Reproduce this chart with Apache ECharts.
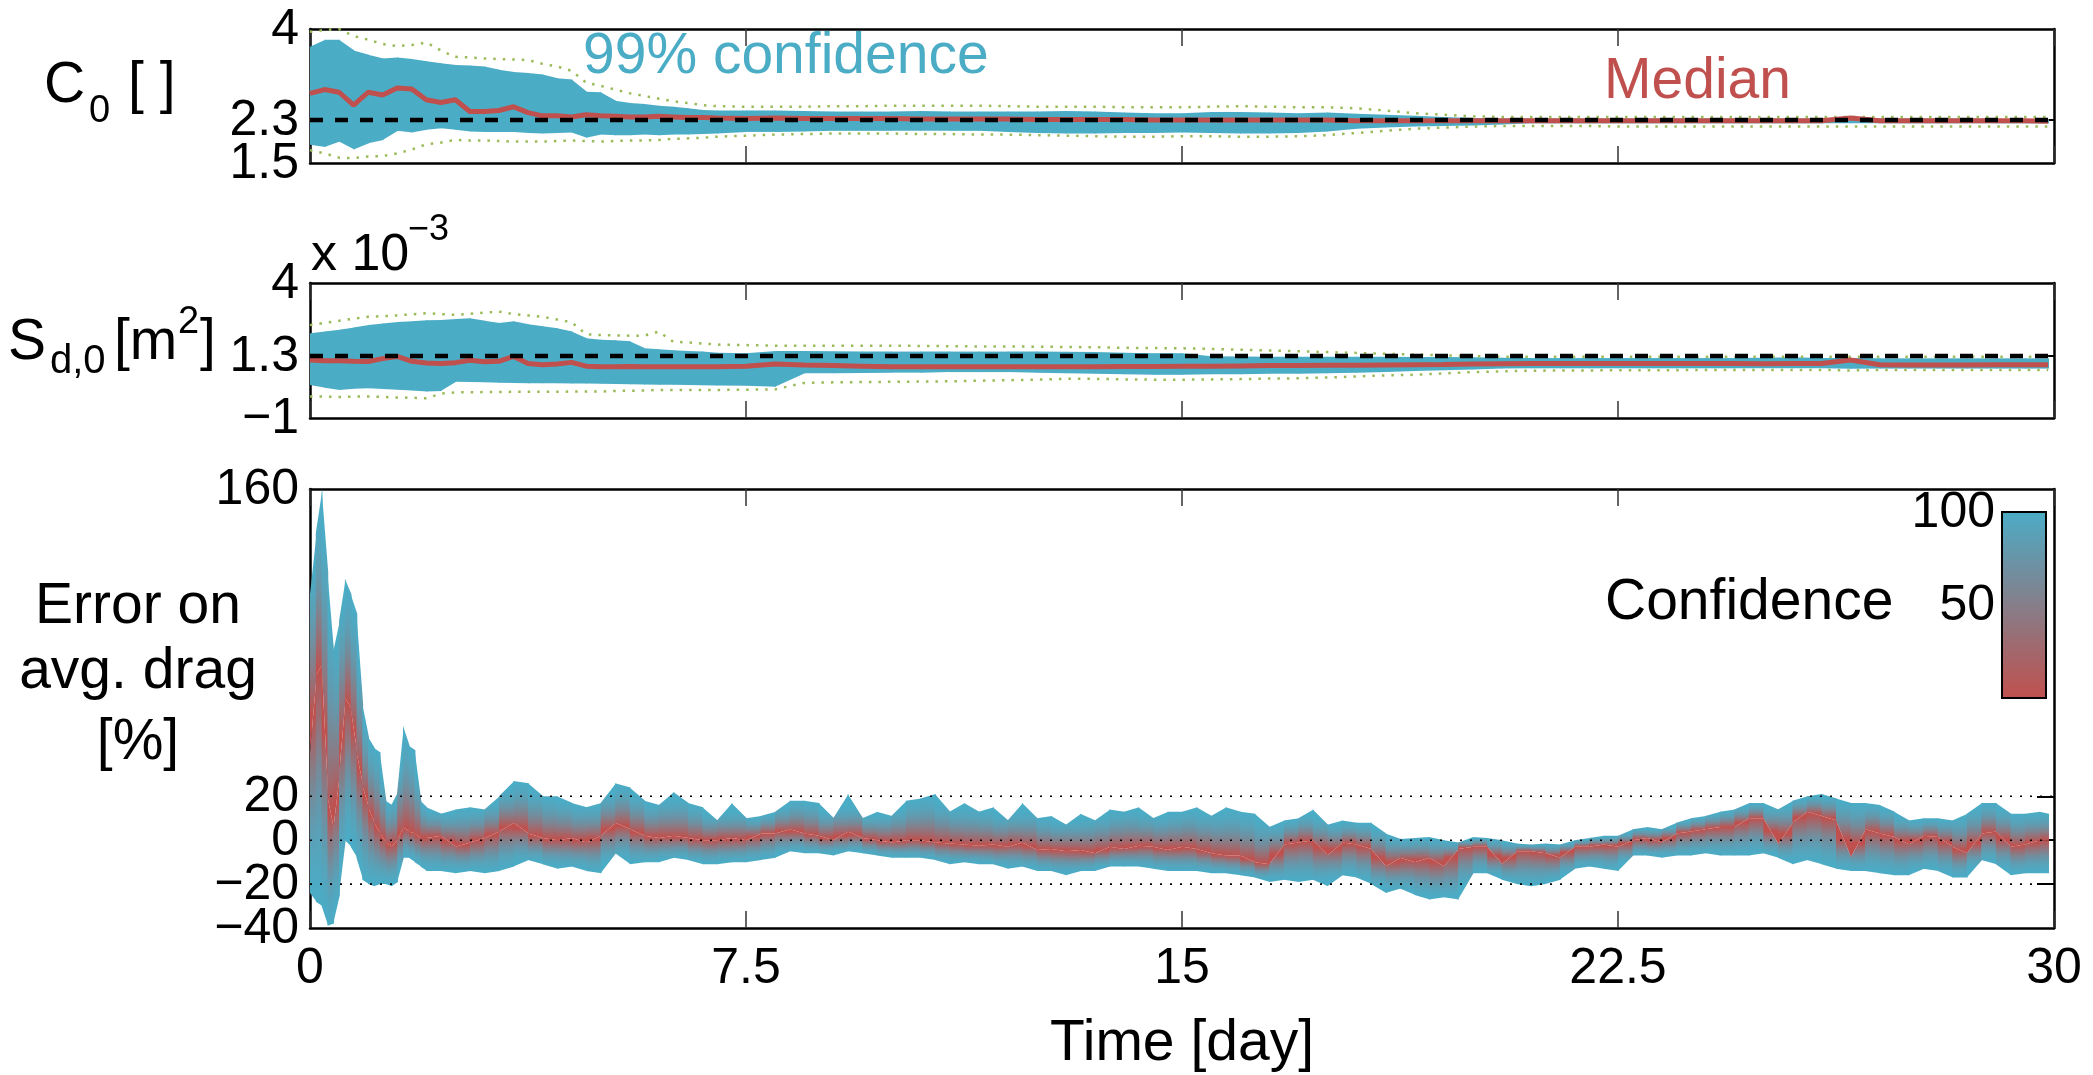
<!DOCTYPE html>
<html>
<head>
<meta charset="utf-8">
<script src="https://cdn.jsdelivr.net/npm/echarts@6/dist/echarts.min.js"></script>
<style>
  html, body { margin: 0; padding: 0; background: #fff; }
  #chart { width: 2093px; height: 1075px; }
</style>
</head>
<body>
<div id="chart"></div>
<script>
// ---------- data ----------
// time grid for the two parameter panels [day]
const paramDays = [
  0, 0.25, 0.5, 0.75, 1, 1.25, 1.5, 1.75, 2, 2.25, 2.5, 2.75, 3, 3.25, 3.5, 3.75, 4, 4.25, 4.5, 4.75,
  5, 5.25, 5.5, 5.75, 6, 6.25, 6.5, 6.75, 7,
  7.5, 8, 8.5, 9, 9.5, 10, 10.5, 11, 11.5, 12, 12.5, 13, 13.5, 14, 14.5, 15, 15.5, 16, 16.5, 17, 17.5,
  18, 18.5, 19, 19.5, 20, 20.5, 21, 21.5, 22, 22.5, 23, 23.5, 24, 24.5, 25, 25.5, 26, 26.5, 27, 27.5,
  28, 28.5, 29, 29.5,
  29.9
];

// drag coefficient C0: 99% band, median, outer envelope
const c0Upper = [
  3.67, 3.8, 3.8, 3.6, 3.52, 3.45, 3.47, 3.44, 3.4, 3.36, 3.33, 3.32, 3.3, 3.24, 3.2, 3.18, 3.15, 3.08, 3.06, 2.83,
  2.82, 2.66, 2.62, 2.6, 2.57, 2.55, 2.52, 2.49, 2.48,
  2.48, 2.48, 2.47, 2.46, 2.46, 2.46, 2.47, 2.46, 2.46, 2.46, 2.46, 2.47, 2.46, 2.44, 2.43, 2.43, 2.45, 2.45, 2.44, 2.43, 2.44,
  2.42, 2.4, 2.38, 2.36, 2.34, 2.33, 2.33, 2.33, 2.33, 2.33, 2.33, 2.33, 2.33, 2.33, 2.33, 2.33, 2.33, 2.34, 2.33, 2.33,
  2.33, 2.33, 2.32, 2.32,
  2.32
];
const c0Lower = [
  1.84, 1.80, 1.90, 1.75, 1.87, 1.93, 2.1, 2.07, 2.12, 2.15, 2.12, 2.09, 2.08, 2.08, 2.08, 2.06, 2.05, 2.06, 2.07, 1.97,
  2.03, 2.02, 2.02, 2.03, 2.02, 2.03, 2.03, 2.04, 2.05,
  2.08, 2.08, 2.09, 2.1, 2.1, 2.1, 2.1, 2.1, 2.1, 2.08, 2.06, 2.05, 2.05, 2.06, 2.06, 2.07, 2.06, 2.05, 2.05, 2.06, 2.09,
  2.14, 2.16, 2.18, 2.19, 2.2, 2.22, 2.24, 2.24, 2.24, 2.24, 2.24, 2.24, 2.24, 2.24, 2.24, 2.24, 2.24, 2.24, 2.24, 2.24,
  2.24, 2.24, 2.24, 2.24,
  2.24
];
const c0Median = [
  2.8, 2.87, 2.82, 2.58, 2.82, 2.77, 2.9, 2.88, 2.68, 2.63, 2.68, 2.46, 2.46, 2.48, 2.55, 2.44, 2.38, 2.38, 2.36, 2.4,
  2.38, 2.37, 2.36, 2.36, 2.37, 2.36, 2.35, 2.35, 2.34,
  2.33, 2.34, 2.33, 2.33, 2.33, 2.33, 2.32, 2.32, 2.32, 2.32, 2.31, 2.31, 2.31, 2.31, 2.3, 2.3, 2.3, 2.3, 2.3, 2.3, 2.3,
  2.29, 2.29, 2.29, 2.29, 2.29, 2.29, 2.29, 2.29, 2.29, 2.29, 2.29, 2.29, 2.29, 2.29, 2.29, 2.29, 2.29, 2.34, 2.29, 2.29,
  2.29, 2.29, 2.29, 2.29,
  2.28
];
const c0EnvelopeUp = [
  3.95, 3.98, 4.0, 3.87, 3.8, 3.72, 3.68, 3.7, 3.75, 3.6, 3.48, 3.47, 3.45, 3.44, 3.43, 3.42, 3.35, 3.3, 3.22, 3.0,
  2.94, 2.87, 2.8, 2.75, 2.7, 2.65, 2.62, 2.58, 2.56,
  2.55, 2.55, 2.55, 2.56, 2.56, 2.57, 2.57, 2.57, 2.57, 2.56, 2.55, 2.55, 2.55, 2.54, 2.54, 2.54, 2.55, 2.56, 2.55, 2.54, 2.54,
  2.52, 2.48, 2.43, 2.4, 2.37, 2.36, 2.36, 2.36, 2.36, 2.36, 2.36, 2.36, 2.36, 2.36, 2.36, 2.36, 2.36, 2.36, 2.36, 2.36,
  2.36, 2.36, 2.36, 2.36,
  2.36
];
const c0EnvelopeLow = [
  1.74, 1.68, 1.6, 1.59, 1.62, 1.63, 1.68, 1.75, 1.85, 1.88, 1.93, 1.92, 1.92, 1.91, 1.9, 1.9, 1.9, 1.91, 1.92, 1.91,
  1.9, 1.91, 1.92, 1.92, 1.93, 1.95, 1.96, 1.97, 1.99,
  2.01, 2.03, 2.04, 2.05, 2.05, 2.05, 2.04, 2.04, 2.03, 2.03, 2.02, 2.01, 2.0, 1.99, 1.99, 2.0, 2.0, 1.99, 1.99, 2.0, 2.02,
  2.06, 2.1, 2.14, 2.16, 2.18, 2.19, 2.19, 2.19, 2.19, 2.18, 2.18, 2.18, 2.18, 2.18, 2.18, 2.18, 2.18, 2.18, 2.18, 2.18,
  2.18, 2.18, 2.18, 2.18,
  2.18
];

// drag area Sd,0 [x 1e-3 m^2]
const sdUpper = [
  2.14, 2.2, 2.27, 2.35, 2.44, 2.5, 2.56, 2.58, 2.62, 2.63, 2.67, 2.69, 2.6, 2.52, 2.58, 2.47, 2.4, 2.32, 2.2, 1.95,
  1.9, 1.88, 1.84, 1.58, 1.55, 1.51, 1.48, 1.46, 1.42,
  1.4, 1.48, 1.48, 1.47, 1.46, 1.46, 1.46, 1.46, 1.46, 1.46, 1.46, 1.45, 1.44, 1.42, 1.4, 1.4, 1.29, 1.28, 1.27, 1.27, 1.27,
  1.27, 1.27, 1.26, 1.26, 1.25, 1.23, 1.22, 1.22, 1.22, 1.22, 1.22, 1.22, 1.22, 1.22, 1.23, 1.25, 1.22, 1.22, 1.21, 1.21,
  1.21, 1.21, 1.21, 1.21,
  1.21
];
const sdLower = [
  0.22, 0.12, 0.04, 0.08, 0.1, 0.07, 0.05, 0.02, -0.02, 0.0, 0.34, 0.33, 0.32, 0.31, 0.3, 0.29, 0.29, 0.29, 0.28, 0.28,
  0.27, 0.26, 0.25, 0.24, 0.23, 0.23, 0.22, 0.21, 0.2,
  0.19, 0.16, 0.66, 0.66, 0.67, 0.68, 0.68, 0.7, 0.7, 0.7, 0.68, 0.66, 0.64, 0.62, 0.6, 0.6, 0.62, 0.62, 0.64, 0.64, 0.66,
  0.68, 0.7, 0.74, 0.77, 0.8, 0.83, 0.84, 0.84, 0.84, 0.84, 0.84, 0.84, 0.84, 0.84, 0.84, 0.84, 0.84, 0.82, 0.83, 0.83,
  0.83, 0.83, 0.83, 0.83,
  0.83
];
const sdMedian = [
  1.15, 1.12, 1.12, 1.1, 1.09, 1.2, 1.28, 1.1, 1.04, 1.02, 1.05, 1.14, 1.08, 1.1, 1.28, 1.02, 0.97, 1.0, 1.06, 0.92,
  0.9, 0.9, 0.91, 0.9, 0.9, 0.9, 0.9, 0.9, 0.9,
  0.92, 1.0, 0.96, 0.94, 0.92, 0.9, 0.9, 0.9, 0.9, 0.9, 0.9, 0.9, 0.9, 0.91, 0.91, 0.92, 0.92, 0.93, 0.94, 0.94, 0.95,
  0.95, 0.96, 0.97, 0.98, 1.0, 1.01, 1.02, 1.02, 1.02, 1.02, 1.02, 1.02, 1.02, 1.02, 1.01, 1.02, 1.02, 1.15, 0.97, 0.96,
  0.96, 0.96, 0.97, 0.97,
  0.97
];
const sdEnvelopeUp = [
  2.44, 2.52, 2.6, 2.68, 2.75, 2.77, 2.8, 2.84, 2.88, 2.85, 2.82, 2.86, 2.9, 2.94, 2.85, 2.8, 2.75, 2.65, 2.55, 2.1,
  2.07, 2.06, 2.05, 2.05, 2.2, 1.82, 1.8, 1.76, 1.72,
  1.7, 1.68, 1.68, 1.68, 1.68, 1.68, 1.67, 1.66, 1.65, 1.65, 1.64, 1.63, 1.62, 1.6, 1.59, 1.58, 1.56, 1.53, 1.5, 1.47, 1.44,
  1.41, 1.38, 1.35, 1.32, 1.29, 1.27, 1.27, 1.27, 1.27, 1.27, 1.27, 1.27, 1.27, 1.27, 1.27, 1.27, 1.27, 1.27, 1.27, 1.27,
  1.27, 1.27, 1.27, 1.27,
  1.27
];
const sdEnvelopeLow = [
  -0.2, -0.21, -0.22, -0.21, -0.2, -0.22, -0.24, -0.25, -0.27, -0.1, -0.05, -0.05, -0.04, -0.04, -0.03, -0.03, -0.03, -0.03, -0.02, -0.02,
  -0.02, 0.0, 0.01, 0.02, 0.04, 0.04, 0.04, 0.04, 0.04,
  0.05, 0.06, 0.3, 0.32, 0.33, 0.34, 0.35, 0.36, 0.38, 0.4, 0.42, 0.45, 0.45, 0.43, 0.42, 0.42, 0.43, 0.44, 0.46, 0.47, 0.5,
  0.54, 0.58, 0.6, 0.65, 0.7, 0.73, 0.75, 0.76, 0.76, 0.77, 0.77, 0.77, 0.78, 0.78, 0.78, 0.78, 0.78, 0.76, 0.78, 0.78,
  0.78, 0.78, 0.78, 0.78,
  0.78
];

// time grid for the drag error panel [day]
const dragDays = [
  0, 0.1, 0.2, 0.3, 0.4, 0.5, 0.6, 0.7, 0.8, 0.9, 1.0, 1.1, 1.2, 1.3, 1.4, 1.5, 1.6, 1.7, 1.8, 1.9, 2.0,
  2.25, 2.5, 2.75, 3, 3.25, 3.5, 3.75, 4, 4.25, 4.5, 4.75, 5, 5.25, 5.5, 5.75, 6, 6.25, 6.5, 6.75, 7,
  7.25, 7.5, 7.75, 8, 8.25, 8.5, 8.75, 9, 9.25, 9.5, 9.75, 10, 10.25, 10.5, 10.75, 11, 11.25, 11.5, 11.75, 12,
  12.25, 12.5, 12.75, 13, 13.25, 13.5, 13.75, 14, 14.25, 14.5, 14.75, 15, 15.25, 15.5, 15.75, 16, 16.25, 16.5, 16.75, 17,
  17.25, 17.5, 17.75, 18, 18.25, 18.5, 18.75, 19, 19.25, 19.5, 19.75, 20, 20.25, 20.5, 20.75, 21, 21.25, 21.5, 21.75, 22,
  22.25, 22.5, 22.75, 23, 23.25, 23.5, 23.75, 24, 24.25, 24.5, 24.75, 25, 25.25, 25.5, 25.75, 26, 26.25, 26.5, 26.75, 27,
  27.25, 27.5, 27.75, 28, 28.25, 28.5, 28.75, 29, 29.25, 29.5, 29.75,
  29.9
];
// error on averaged drag [%]: full-confidence bounds and median
const dragUpper = [
  112, 140, 160, 122, 86, 100, 119, 112, 103, 62, 47, 42, 40, 18, 16, 22, 52, 43, 41, 18, 15,
  12, 14, 15, 14, 20, 27, 26, 20, 20, 17, 15, 17, 26, 24, 18, 16, 22, 17, 15, 9,
  17, 10, 11, 13, 18, 18, 17, 10, 21, 10, 13, 11, 18, 19, 21, 13, 17, 13, 15, 9,
  17, 10, 11, 7, 12, 9, 14, 13, 15, 10, 13, 13, 15, 11, 15, 13, 12, 6, 9, 10,
  14, 7, 9, 8, 8, 3, 0.5, 1, 1.5, 0, -1, 1.5, 1, 0, -1.5, -2, -1.5, -2, 0, 1,
  2, 2, 5, 6, 5, 8, 10, 11, 13, 14, 17, 17, 14, 18, 20, 21, 19, 17, 17, 16,
  13, 9, 10, 10, 9, 12, 17, 17, 12, 12, 13,
  12
];
const dragMedian = [
  40, 75, 80, 20, 5, 30, 65, 60, 40, 25, 15, 8, 3, -1, -3, 0, 6, 4, 3, 1, 1,
  2, -3, -1, 1, 4, 8, 3, 1, 0, 1, -1, 2, 8, 5, 2, 1, 2, 1, 0, 0,
  1, 0, 3, 3, 5, 3, 2, 0, 4, 1, 0, -1, 0, 0, -1, -1.5, -2, -2.5, -2, -3,
  -1, -4.5, -4, -5, -4.5, -6, -3, -4, -2.5, -3, -4.5, -3, -4, -6, -7, -7, -10, -11, -2, -1,
  0, -7, -1, -2, -4, -12, -8, -10, -8, -12, -4, -3, -3, -11, -5, -5, -6, -8, -3, -3,
  -2, -3, 0, 1, -1, 3, 4, 5, 6, 6, 10, 10, -2, 8, 13, 11, 9, -8, 5, 3,
  1.5, -2, 2, 1.5, -3, -6, 3, 4, -3, -2, 0,
  0
];
const dragLower = [
  -24, -28, -30, -39, -38, -25, 0, -3, -8, -18, -20, -21, -20, -20, -21, -19, -8, -8, -10, -12, -14,
  -14, -15, -14, -15, -14, -12, -9, -11, -13, -12, -14, -15, -6, -11, -10, -10, -8, -9, -11, -11,
  -10, -10, -9, -8, -5, -6, -6, -7, -5, -6, -7, -8, -8, -8, -9, -11, -10, -11, -11, -13,
  -12, -14, -14, -16, -14, -14, -12, -12, -12, -13, -14, -14, -14, -15, -15, -16, -17, -19, -18, -19,
  -18, -21, -16, -17, -20, -24, -22, -25, -27, -26, -27, -15, -15, -18, -20, -21, -20, -18, -13, -12,
  -13, -14, -7, -7, -8, -7, -7, -6, -7, -7, -7, -6, -8, -11, -9, -11, -13, -14, -14, -15,
  -16, -16, -13, -14, -17, -17, -9, -11, -16, -15, -15,
  -15
];

// reference values, guide levels and tick labels
const c0Reference = 2.3;
const sdReference = 1.3;
const errorGuides = [-20, 0, 20];
const c0TickValues = [1.5, 2.3, 4];
const sdTickValues = [-1, 1.3, 4];
const errorTickValues = [-40, -20, 0, 20, 160];
const timeRange = [0, 30];
const timeStep = 7.5;
const confidenceTicks = [100, 50];

// ---------- styling ----------
const TEAL = '#4BACC6';
const RED = '#C0504D';
const GREEN = '#9BBB59';
const FONT = '"Liberation Sans", Arial, Helvetica, sans-serif';

const fmt = v => (v < 0 ? '\u2212' + Math.abs(v) : String(v));
const pairs = (xs, ys) => xs.map((x, i) => [x, ys[i]]);
const segments = (xs, cols) =>
  xs.slice(0, -1).map((x, i) => [x].concat(cols.map(c => c[i]), [xs[i + 1]], cols.map(c => c[i + 1])));

// colour ramp of the confidence colour bar (0 = red, 100 = teal)
function hexRgb(h) { return [1, 3, 5].map(k => parseInt(h.substr(k, 2), 16)); }
const redRgb = hexRgb(RED), tealRgb = hexRgb(TEAL);
function ramp(c) {
  const m = redRgb.map((r, k) => Math.round(r + (tealRgb[k] - r) * c));
  return 'rgb(' + m.join(',') + ')';
}
function erf(x) {
  const t = 1 / (1 + 0.3275911 * x);
  return 1 - ((((1.061405429 * t - 1.453152027) * t + 1.421413741) * t - 0.284496736) * t + 0.254829592) * t * Math.exp(-x * x);
}
// colour stops from the median (offset 0) to the outer bound (offset 1)
const Z_EDGE = 2.0;
const bandStops = [];
for (let k = 0; k <= 20; k++) {
  const f = k / 20;
  bandStops.push({ offset: f, color: ramp(Math.min(1, erf(f * Z_EDGE / Math.SQRT2) / erf(Z_EDGE / Math.SQRT2))) });
}
function bandFill(yFrom, yTo) {
  if (Math.abs(yTo - yFrom) < 0.5) yTo = yFrom + 0.5;
  return new echarts.graphic.LinearGradient(0, yFrom, 0, yTo, bandStops, true);
}

// solid teal band: rows [t0, lo0, up0, t1, lo1, up1]
function renderSolidBand(params, api) {
  const p = (t, v) => api.coord([t, v]);
  const a = p(api.value(0), api.value(2));
  const b = p(api.value(3), api.value(5));
  const c = p(api.value(3), api.value(4));
  const d = p(api.value(0), api.value(1));
  b[0] += 0.8; c[0] += 0.8;
  return { type: 'polygon', shape: { points: [a, b, c, d] }, style: { fill: TEAL } };
}
// confidence band shaded from the median outward: rows [t0, lo0, med0, up0, t1, lo1, med1, up1]
function renderShadedBand(params, api) {
  const p = (t, v) => api.coord([t, v]);
  const t0 = api.value(0), t1 = api.value(4);
  const up0 = p(t0, api.value(3)), up1 = p(t1, api.value(7));
  const md0 = p(t0, api.value(2)), md1 = p(t1, api.value(6));
  const lo0 = p(t0, api.value(1)), lo1 = p(t1, api.value(5));
  up1[0] += 0.8; md1[0] += 0.8; lo1[0] += 0.8;
  const ym = (md0[1] + md1[1]) / 2, yu = (up0[1] + up1[1]) / 2, yl = (lo0[1] + lo1[1]) / 2;
  return {
    type: 'group',
    children: [
      { type: 'polygon', shape: { points: [md0, md1, up1, up0] }, style: { fill: bandFill(ym, yu) } },
      { type: 'polygon', shape: { points: [md0, md1, lo1, lo0] }, style: { fill: bandFill(ym, yl) } }
    ]
  };
}

// ---------- axes ----------
const frameLine = { show: true, onZero: false, lineStyle: { color: '#000', width: 2.5 } };
function timeAxes(gridIndex, withLabels) {
  const base = {
    type: 'value', gridIndex, min: timeRange[0], max: timeRange[1], interval: timeStep,
    axisLine: frameLine,
    axisTick: { show: true, inside: true, length: 17, lineStyle: { color: '#333', width: 1.5 } },
    splitLine: { show: false }
  };
  const bottom = Object.assign({}, base, {
    position: 'bottom',
    axisLabel: { show: withLabels, fontFamily: FONT, fontSize: 50, color: '#000', margin: 16,
                 showMinLabel: true, showMaxLabel: true, hideOverlap: false }
  });
  if (withLabels) {
    Object.assign(bottom, {
      name: 'Time [day]', nameLocation: 'middle', nameGap: 88,
      nameTextStyle: { fontFamily: FONT, fontSize: 57, color: '#000' }
    });
  }
  const top = Object.assign({}, base, { position: 'top', axisLabel: { show: false } });
  return [bottom, top];
}
// value labels of these axes are placed as free text below, since they sit closer than their own height
function valueAxes(gridIndex, min, max, ticks) {
  const base = {
    type: 'value', gridIndex, min, max,
    axisLine: frameLine,
    axisTick: { show: true, inside: true, length: 17, customValues: ticks, lineStyle: { color: '#000', width: 2 } },
    axisLabel: { show: false },
    splitLine: { show: false }
  };
  return [Object.assign({}, base, { position: 'left' }), Object.assign({}, base, { position: 'right' })];
}

// ---------- series ----------
function levelLine(xIdx, yIdx, value, style, z) {
  return {
    type: 'line', xAxisIndex: xIdx, yAxisIndex: yIdx, data: [[timeRange[0], value], [timeRange[1], value]],
    showSymbol: false, symbol: 'none', silent: true, z, lineStyle: style
  };
}
function envelope(xIdx, yIdx, xs, ys) {
  return {
    type: 'line', xAxisIndex: xIdx, yAxisIndex: yIdx, data: pairs(xs, ys), symbol: 'none', silent: true, z: 3,
    lineStyle: { color: GREEN, width: 2.5, type: [2.5, 7] }
  };
}
function medianLine(xIdx, yIdx, xs, ys) {
  return {
    type: 'line', xAxisIndex: xIdx, yAxisIndex: yIdx, data: pairs(xs, ys), symbol: 'none', silent: true, z: 4,
    lineStyle: { color: RED, width: 5 }
  };
}
const refStyle = { color: '#000', width: 4.5, type: [13, 12] };
const guideStyle = { color: '#000', width: 1.6, type: [2, 8] };

const series = [
  // C0 panel
  { type: 'custom', xAxisIndex: 0, yAxisIndex: 0, renderItem: renderSolidBand, silent: true, z: 2,
    encode: { x: [0, 3], y: [1, 2, 4, 5] }, data: segments(paramDays, [c0Lower, c0Upper]) },
  envelope(0, 0, paramDays, c0EnvelopeUp),
  envelope(0, 0, paramDays, c0EnvelopeLow),
  medianLine(0, 0, paramDays, c0Median),
  levelLine(0, 0, c0Reference, refStyle, 6),
  // Sd,0 panel
  { type: 'custom', xAxisIndex: 2, yAxisIndex: 2, renderItem: renderSolidBand, silent: true, z: 2,
    encode: { x: [0, 3], y: [1, 2, 4, 5] }, data: segments(paramDays, [sdLower, sdUpper]) },
  envelope(2, 2, paramDays, sdEnvelopeUp),
  envelope(2, 2, paramDays, sdEnvelopeLow),
  medianLine(2, 2, paramDays, sdMedian),
  levelLine(2, 2, sdReference, refStyle, 6),
  // drag error panel
  { type: 'custom', xAxisIndex: 4, yAxisIndex: 4, renderItem: renderShadedBand, silent: true, z: 2,
    encode: { x: [0, 4], y: [1, 2, 3, 5, 6, 7] }, data: segments(dragDays, [dragLower, dragMedian, dragUpper]) }
].concat(errorGuides.map(v => levelLine(4, 4, v, guideStyle, 6)));

// ---------- free text and colour bar ----------
function label(text, x, y, size, opts) {
  const o = opts || {};
  const align = o.align || 'left';
  return {
    type: 'text', x, y, silent: true, z: 20,
    style: {
      text, font: size + 'px ' + FONT, fill: o.color || '#000',
      align, verticalAlign: 'middle', textAlign: align, textVerticalAlign: 'middle'
    }
  };
}
const cbar = { x: 2002, y: 512, w: 44, h: 186 };
const graphics = [
  // y-axis titles
  label('C', 44, 86, 57),
  label('0', 89, 112, 38),
  label('[ ]', 128, 86, 57),
  label('S', 8, 343, 57),
  label('d,0', 50, 362, 40),
  label('[m', 114, 343, 57),
  label('2', 178, 323, 38),
  label(']', 200, 343, 57),
  label('Error on', 138, 607, 57, { align: 'center' }),
  label('avg. drag', 138, 672, 57, { align: 'center' }),
  label('[%]', 138, 743, 57, { align: 'center' }),
  // axis multiplier of the Sd,0 panel
  label('x 10', 311, 256, 52),
  label('\u22123', 408, 230, 36),
  // annotations
  label('99% confidence', 583, 57, 57, { color: TEAL }),
  label('Median', 1604, 82, 57, { color: RED }),
  // colour bar
  label('Confidence', 1605, 603, 57),
  {
    type: 'rect', silent: true, z: 20,
    shape: { x: cbar.x, y: cbar.y, width: cbar.w, height: cbar.h },
    style: {
      fill: new echarts.graphic.LinearGradient(0, 0, 0, 1, [{ offset: 0, color: TEAL }, { offset: 1, color: RED }]),
      stroke: '#000', lineWidth: 2
    }
  }
].concat(confidenceTicks.map(v => {
  const y = cbar.y + cbar.h * (1 - v / 100);
  return label(String(v), 1995, y + 1, 50, { align: 'right' });
})).concat(confidenceTicks.filter(v => v < 100).map(v => {
  const y = cbar.y + cbar.h * (1 - v / 100);
  return {
    type: 'group', silent: true, z: 21, children: [
      { type: 'line', shape: { x1: cbar.x, y1: y, x2: cbar.x + 4, y2: y }, style: { stroke: '#333', lineWidth: 1.5 } },
      { type: 'line', shape: { x1: cbar.x + cbar.w - 4, y1: y, x2: cbar.x + cbar.w, y2: y }, style: { stroke: '#333', lineWidth: 1.5 } }
    ]
  };
}));

const chart = echarts.init(document.getElementById('chart'), null, { renderer: 'canvas' });
chart.setOption({
  animation: false,
  backgroundColor: '#fff',
  grid: [
    { left: 310, right: 39, top: 29, height: 134 },
    { left: 310, right: 39, top: 283, height: 135 },
    { left: 310, right: 39, top: 489, height: 439 }
  ],
  xAxis: [].concat(timeAxes(0, false), timeAxes(1, false), timeAxes(2, true)),
  yAxis: [].concat(
    valueAxes(0, 1.5, 4, [c0Reference]),
    valueAxes(1, -1, 4, [sdReference]),
    valueAxes(2, -40, 160, errorGuides)
  ),
  series
});

// value-axis tick labels, positioned through each panel's own scales
const valueLabelSets = [[0, c0TickValues], [2, sdTickValues], [4, errorTickValues]];
const valueLabels = [];
valueLabelSets.forEach(([axisIndex, values]) => {
  const xLeft = chart.convertToPixel({ xAxisIndex: axisIndex }, timeRange[0]);
  values.forEach(v => {
    const y = chart.convertToPixel({ yAxisIndex: axisIndex }, v);
    valueLabels.push(label(fmt(v), xLeft - 11, y + 1, 50, { align: 'right' }));
  });
});
chart.setOption({ graphic: { elements: graphics.concat(valueLabels) } });
</script>
</body>
</html>
